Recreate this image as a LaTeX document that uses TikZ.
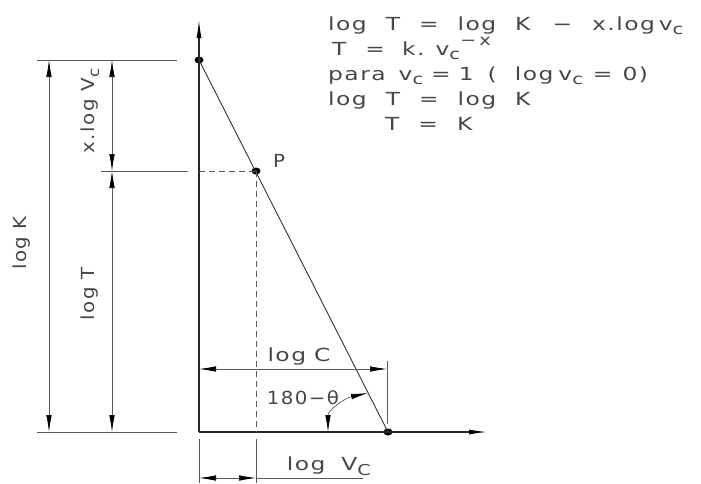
\documentclass[tikz,border=0pt]{standalone}
\usepackage{fontspec}
\usetikzlibrary{arrows.meta,shapes.geometric}
\newfontfamily\cad[LetterSpace=8,FakeStretch=1.3]{DejaVu Sans}
\newfontfamily\cadn[LetterSpace=8,FakeStretch=1.1]{DejaVu Sans}
\newcommand\subc[1]{\raisebox{-0.5ex}{\fontsize{15}{15}\selectfont #1}}
\newcommand\supx[1]{\raisebox{1.0ex}{\fontsize{15}{15}\selectfont #1}}
\newcommand\gp{\hspace{19pt}}
\newcommand\hs[1]{\hspace{#1pt}}
\tikzset{
  txt/.style={font=\cad\fontsize{18}{18}\selectfont, text=black!72, inner sep=0pt},
  txtn/.style={font=\cadn\fontsize{18}{18}\selectfont, text=black!72, inner sep=0pt},
  axis/.style={line width=1.1pt, black!85},
  slant/.style={line width=0.9pt, black!80},
  dimln/.style={line width=0.7pt, black!65},
  tip/.style={-{Latex[length=18pt,width=5pt,black]}},
  dimarr/.style={{Latex[length=17pt,width=5.5pt,black]}-{Latex[length=17pt,width=5.5pt,black]}},
  dot/.style={ellipse, fill=black, inner sep=0pt, minimum width=9pt, minimum height=7pt}
}
\begin{document}
\begin{tikzpicture}[x=1pt,y=-1pt]
\useasboundingbox (0,0) rectangle (701,483);
% key coordinates
\coordinate (O) at (199,432);
\coordinate (Ytip) at (199,20);
\coordinate (Xtip) at (487,432);
\node[dot] (K) at (199,60) {};
\node[dot] (P) at (256,171) {};
\node[dot] (C) at (388,432) {};
% axes
\draw[axis,tip] (O) -- (Ytip);
\draw[axis,tip] (O) -- (Xtip);
% slant line
\draw[slant] (K.center) -- (C.center);
% dashed projections
\coordinate (PY) at (199,171);
\coordinate (PX) at (256,432);
\draw[dimln,dash pattern=on 6pt off 4pt] (PY) -- (P.center);
\draw[dimln,dash pattern=on 6pt off 4pt] (P.center) -- (PX);
% extension lines left
\coordinate (eT1) at (37,60);  \coordinate (eT2) at (177,60);
\coordinate (eP1) at (101,171); \coordinate (eP2) at (188,171);
\coordinate (eB1) at (37,432); \coordinate (eB2) at (177,432);
\draw[dimln] (eT1) -- (eT2);
\draw[dimln] (eP1) -- (eP2);
\draw[dimln] (eB1) -- (eB2);
% dimension log K
\coordinate (dK1) at (49,60); \coordinate (dK2) at (49,432);
\draw[dimln,dimarr] (dK1) -- (dK2);
% dimension x.log Vc and log T
\coordinate (dX1) at (112,60); \coordinate (dX2) at (112,171); \coordinate (dX3) at (112,432);
\draw[dimln,dimarr] (dX1) -- (dX2);
\draw[dimln,dimarr] (dX2) -- (dX3);
% labels left
\node[txtn,rotate=90] (lK) at (22,243) {log K};
\node[txtn,rotate=90] (lX) at (90,111) {x.log V\subc{c}};
\node[txtn,rotate=90] (lT) at (90,294) {log T};
\node[txtn] (lP) at (279,161) {P};
% log C dimension
\coordinate (cL) at (199,369); \coordinate (cR) at (387,369);
\coordinate (cE1) at (387,361); \coordinate (cE2) at (387,424);
\draw[dimln] (cE1) -- (cE2);
\draw[dimln,dimarr] (cL) -- (cR);
\node[txt] (lC) at (299,357) {log\hs{8}C};
% angle
\coordinate (a1) at (328,432);
\coordinate (a2) at (368,393);
\draw[dimln,dimarr] (a1) .. controls (328,410) and (345,398) .. (a2);
\node[txtn] (lA) at (303,398) {180−θ};
% bottom log Vc dimension
\coordinate (b1) at (199,439); \coordinate (b2) at (199,483);
\coordinate (b3) at (256,439); \coordinate (b4) at (256,483);
\draw[dimln] (b1) -- (b2);
\draw[dimln] (b3) -- (b4);
\coordinate (v1) at (199,478); \coordinate (v2) at (256,478); \coordinate (v3) at (363,478);
\draw[dimln,dimarr] (v1) -- (v2);
\draw[dimln] (v2) -- (v3);
\node[txt] (lV) at (329,466) {log\hs{16}V\subc{C}};
% formulas
\node[txt,anchor=base west] (f1) at (328,30) {log\gp T\gp =\gp log\gp K\hs{22}−\hs{20}x.log\hs{4}v\subc{c}};
\node[txt,anchor=base west] (f2) at (332,55) {T\gp =\hs{17}k.\hs{11}v\subc{c}\supx{−\hs{3}x}};
\node[txt,anchor=base west] (f3) at (328,80) {para\hs{13}v\subc{c}\hs{8}=\hs{8}1\hs{14}(\hs{18}log\hs{5}v\subc{c}\hs{10}=\hs{10}0)};
\node[txt,anchor=base west] (f4) at (328,105) {log\gp T\gp =\gp log\gp K};
\node[txt,anchor=base west] (f5) at (385,130) {T\gp =\gp K};
\end{tikzpicture}
\end{document}
